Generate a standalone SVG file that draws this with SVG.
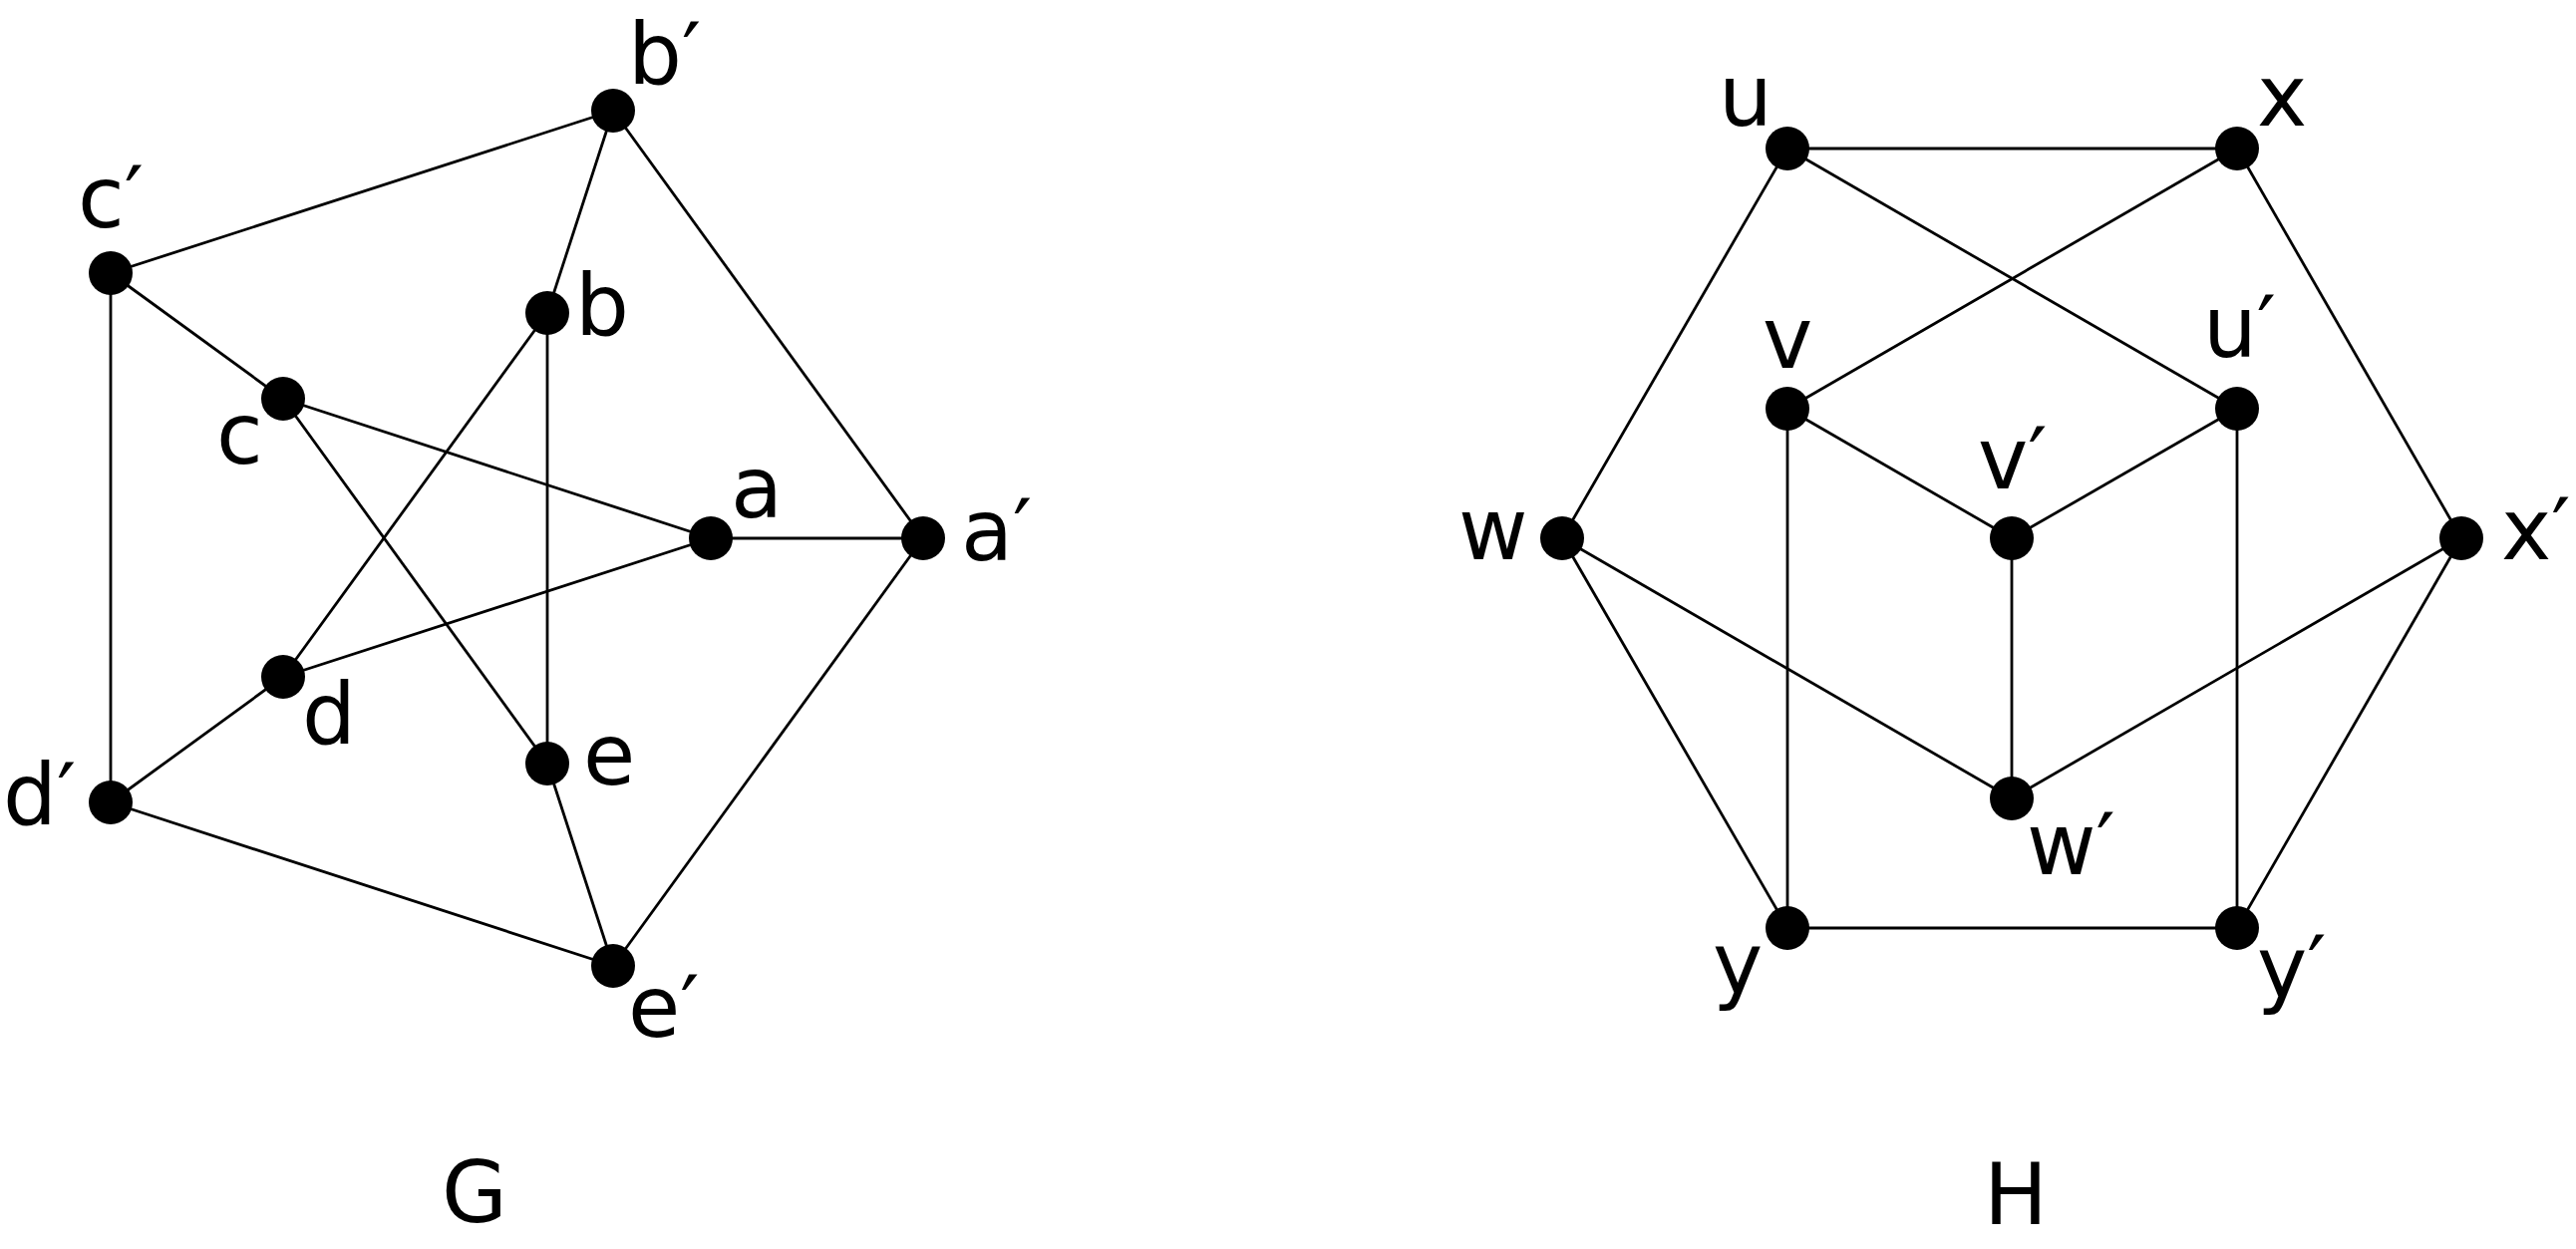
<svg xmlns="http://www.w3.org/2000/svg" width="2584" height="1253" viewBox="0 0 2584 1253">
<style>
.e{stroke:#000;stroke-width:2.8;fill:none}
.n{fill:#000}
text{font-family:"DejaVu Sans","Liberation Sans",sans-serif;font-size:85px;fill:#000}
</style>
<rect width="2584" height="1253" fill="#fff"/>
<g id="connectors" class="e">
<line x1="615" y1="111" x2="111" y2="274"/>
<line x1="615" y1="111" x2="549" y2="314"/>
<line x1="615" y1="111" x2="926" y2="540"/>
<line x1="111" y1="274" x2="284" y2="400"/>
<line x1="111" y1="274" x2="111" y2="805"/>
<line x1="549" y1="314" x2="284" y2="679"/>
<line x1="549" y1="314" x2="549" y2="766"/>
<line x1="284" y1="400" x2="713" y2="540"/>
<line x1="284" y1="400" x2="549" y2="766"/>
<line x1="713" y1="540" x2="926" y2="540"/>
<line x1="713" y1="540" x2="284" y2="679"/>
<line x1="284" y1="679" x2="111" y2="805"/>
<line x1="111" y1="805" x2="615" y2="969"/>
<line x1="549" y1="766" x2="615" y2="969"/>
<line x1="926" y1="540" x2="615" y2="969"/>
<line x1="1793" y1="149" x2="2244" y2="149"/>
<line x1="1793" y1="149" x2="1567" y2="540"/>
<line x1="1793" y1="149" x2="2244" y2="410"/>
<line x1="2244" y1="149" x2="1793" y2="410"/>
<line x1="2244" y1="149" x2="2469" y2="540"/>
<line x1="1793" y1="410" x2="2018" y2="540"/>
<line x1="1793" y1="410" x2="1793" y2="931"/>
<line x1="2244" y1="410" x2="2018" y2="540"/>
<line x1="2244" y1="410" x2="2244" y2="931"/>
<line x1="1567" y1="540" x2="2018" y2="801"/>
<line x1="1567" y1="540" x2="1793" y2="931"/>
<line x1="2018" y1="540" x2="2018" y2="801"/>
<line x1="2469" y1="540" x2="2018" y2="801"/>
<line x1="2469" y1="540" x2="2244" y2="931"/>
<line x1="1793" y1="931" x2="2244" y2="931"/>
</g>
<g id="node-b2"><circle class="n" cx="615" cy="111" r="22"/><text x="630" y="84">b′</text></g>
<g id="node-c2"><circle class="n" cx="111" cy="274" r="22"/><text x="78" y="228">c′</text></g>
<g id="node-b"><circle class="n" cx="549" cy="314" r="22"/><text x="577" y="336">b</text></g>
<g id="node-c"><circle class="n" cx="284" cy="400" r="22"/><text x="217" y="465">c</text></g>
<g id="node-a"><circle class="n" cx="713" cy="540" r="22"/><text x="733" y="519">a</text></g>
<g id="node-a2"><circle class="n" cx="926" cy="540" r="22"/><text x="964" y="562">a′</text></g>
<g id="node-d"><circle class="n" cx="284" cy="679" r="22"/><text x="303" y="746">d</text></g>
<g id="node-d2"><circle class="n" cx="111" cy="805" r="22"/><text x="3" y="827">d′</text></g>
<g id="node-e"><circle class="n" cx="549" cy="766" r="22"/><text x="585" y="787">e</text></g>
<g id="node-e2"><circle class="n" cx="615" cy="969" r="22"/><text x="630" y="1040">e′</text></g>
<g id="label-G"><text x="443" y="1226">G</text></g>
<g id="node-u"><circle class="n" cx="1793" cy="149" r="22"/><text x="1724" y="126">u</text></g>
<g id="node-x"><circle class="n" cx="2244" cy="149" r="22"/><text x="2264" y="126">x</text></g>
<g id="node-v"><circle class="n" cx="1793" cy="410" r="22"/><text x="1768" y="369">v</text></g>
<g id="node-u2"><circle class="n" cx="2244" cy="410" r="22"/><text x="2210" y="358">u′</text></g>
<g id="node-w"><circle class="n" cx="1567" cy="540" r="22"/><text x="1463" y="561">w</text></g>
<g id="node-v2"><circle class="n" cx="2018" cy="540" r="22"/><text x="1984" y="490">v′</text></g>
<g id="node-x2"><circle class="n" cx="2469" cy="540" r="22"/><text x="2509" y="561">x′</text></g>
<g id="node-w2"><circle class="n" cx="2018" cy="801" r="22"/><text x="2033" y="877">w′</text></g>
<g id="node-y"><circle class="n" cx="1793" cy="931" r="22"/><text x="1718" y="996">y</text></g>
<g id="node-y2"><circle class="n" cx="2244" cy="931" r="22"/><text x="2264" y="1000">y′</text></g>
<g id="label-H"><text x="1990" y="1228">H</text></g>
</svg>
